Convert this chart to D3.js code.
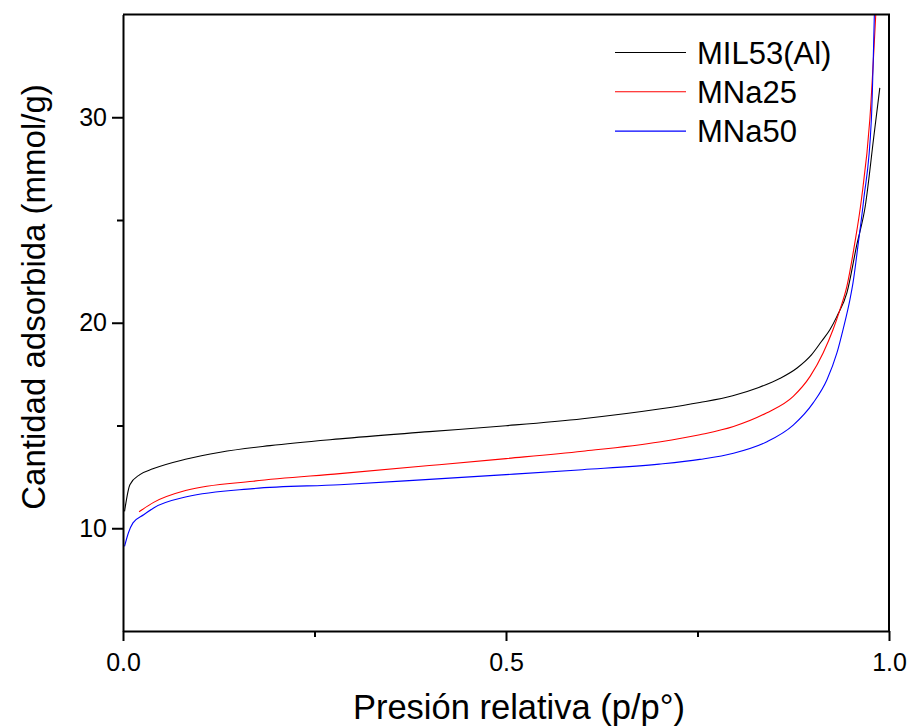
<!DOCTYPE html>
<html>
<head>
<meta charset="utf-8">
<script src="https://cdn.jsdelivr.net/npm/d3@7"></script>
<style>
  body { margin: 0; background: #fff; }
  svg { display: block; font-family: "Liberation Sans", Arial, sans-serif; }
</style>
</head>
<body>
<svg id="chart" width="911" height="727"></svg>
<script>
// isotherm data (p/p°, mmol/g)
const mil53P = [0.002, 0.009, 0.022, 0.039, 0.083, 0.127, 0.192, 0.283, 0.40, 0.50, 0.60, 0.70, 0.753, 0.796, 0.830, 0.858, 0.880, 0.899, 0.912, 0.923, 0.932, 0.945, 0.958, 0.969, 0.980, 0.988];
const mil53V = [10.82, 12.12, 12.61, 12.89, 13.37, 13.70, 14.02, 14.35, 14.70, 14.99, 15.33, 15.80, 16.12, 16.45, 16.85, 17.30, 17.80, 18.45, 19.10, 19.67, 20.31, 21.45, 23.8, 25.67, 29.0, 31.43];

const mna25P = [0.021, 0.040, 0.083, 0.170, 0.283, 0.40, 0.50, 0.60, 0.70, 0.753, 0.797, 0.840, 0.875, 0.897, 0.914, 0.927, 0.936, 0.945, 0.955, 0.964, 0.975, 0.983];
const mna25V = [10.80, 11.26, 11.85, 12.29, 12.66, 13.05, 13.39, 13.75, 14.20, 14.55, 14.95, 15.61, 16.42, 17.39, 18.53, 19.67, 20.64, 21.77, 23.8, 26.0, 29.9, 35.2];

const mna50P = [0.002, 0.007, 0.013, 0.027, 0.040, 0.083, 0.170, 0.283, 0.40, 0.50, 0.60, 0.70, 0.753, 0.797, 0.840, 0.875, 0.901, 0.919, 0.932, 0.940, 0.949, 0.953, 0.960, 0.967, 0.977, 0.981];
const mna50V = [9.12, 9.77, 10.26, 10.66, 10.99, 11.53, 11.93, 12.12, 12.38, 12.61, 12.85, 13.12, 13.35, 13.65, 14.20, 15.02, 16.10, 17.23, 18.53, 19.67, 21.13, 21.94, 23.9, 26.0, 29.9, 35.2];

const seriesNames = ["MIL53(Al)", "MNa25", "MNa50"];
const seriesColors = ["#000000", "#ff0000", "#0000ff"];

const xTicks = [0, 0.5, 1];
const xTickLabels = ["0.0", "0.5", "1.0"];
const xMinorTicks = [0.25, 0.75];
const yTicks = [10, 20, 30];
const yMinorTicks = [15, 25];

const xTitle = "Presión relativa (p/p°)";
const yTitle = "Cantidad adsorbida (mmol/g)";

const margin = { left: 123, right: 22, top: 14.5, bottom: 96 };
const width = 911, height = 727;

const svg = d3.select("#chart");

const x = d3.scaleLinear().domain([0, 1]).range([margin.left, width - margin.right]);
const y = d3.scaleLinear().domain([5, 35]).range([height - margin.bottom, margin.top]);

const series = [
  { p: mil53P, v: mil53V },
  { p: mna25P, v: mna25V },
  { p: mna50P, v: mna50V }
].map((s, i) => ({
  name: seriesNames[i],
  color: seriesColors[i],
  points: s.p.map((p, j) => [p, s.v[j]])
}));

svg.append("clipPath").attr("id", "plot-clip")
  .append("rect")
  .attr("x", x(0)).attr("y", y(35))
  .attr("width", x(1) - x(0)).attr("height", y(5) - y(35));

const line = d3.line()
  .x(d => x(d[0]))
  .y(d => y(d[1]))
  .curve(d3.curveMonotoneX);

svg.append("g").attr("clip-path", "url(#plot-clip)")
  .selectAll("path")
  .data(series)
  .join("path")
  .attr("d", d => line(d.points))
  .attr("fill", "none")
  .attr("stroke", d => d.color)
  .attr("stroke-width", 1.1);

// frame: top and right plain lines
svg.append("path")
  .attr("d", `M${x(0)},${y(35)}H${x(1)}V${y(5)}`)
  .attr("fill", "none")
  .attr("stroke", "#000")
  .attr("stroke-width", 2);

// bottom axis
const xAxis = svg.append("g").attr("transform", `translate(0,${y(5)})`);
xAxis.call(d3.axisBottom(x).tickValues(xTicks).tickFormat((d, i) => xTickLabels[i]).tickSize(10).tickPadding(12).tickSizeOuter(0));
xAxis.append("g").call(d3.axisBottom(x).tickValues(xMinorTicks).tickFormat("").tickSize(6).tickSizeOuter(0))
  .select(".domain").remove();

// left axis
const yAxis = svg.append("g").attr("transform", `translate(${x(0)},0)`);
yAxis.call(d3.axisLeft(y).tickValues(yTicks).tickSize(11).tickPadding(5).tickSizeOuter(0));
yAxis.append("g").call(d3.axisLeft(y).tickValues(yMinorTicks).tickFormat("").tickSize(6).tickSizeOuter(0))
  .select(".domain").remove();

svg.selectAll(".domain, .tick line").attr("stroke", "#000").attr("stroke-width", 2);
svg.selectAll(".tick text").attr("font-size", 25).attr("fill", "#000")
  .attr("font-family", "'Liberation Sans', Arial, sans-serif");

svg.append("text")
  .attr("x", 519)
  .attr("y", 719)
  .attr("text-anchor", "middle")
  .attr("font-size", 34.5)
  .text(xTitle);

svg.append("text")
  .attr("transform", "translate(45,297) rotate(-90)")
  .attr("text-anchor", "middle")
  .attr("font-size", 33)
  .text(yTitle);

// legend
const legend = svg.append("g").selectAll("g")
  .data(series)
  .join("g")
  .attr("transform", (d, i) => `translate(615,${52.5 + i * 39.3})`);

legend.append("line")
  .attr("x1", 0).attr("x2", 71)
  .attr("stroke", d => d.color)
  .attr("stroke-width", 1.1);

legend.append("text")
  .attr("x", 82)
  .attr("dy", "0.36em")
  .attr("font-size", 31)
  .text(d => d.name);
</script>
</body>
</html>
